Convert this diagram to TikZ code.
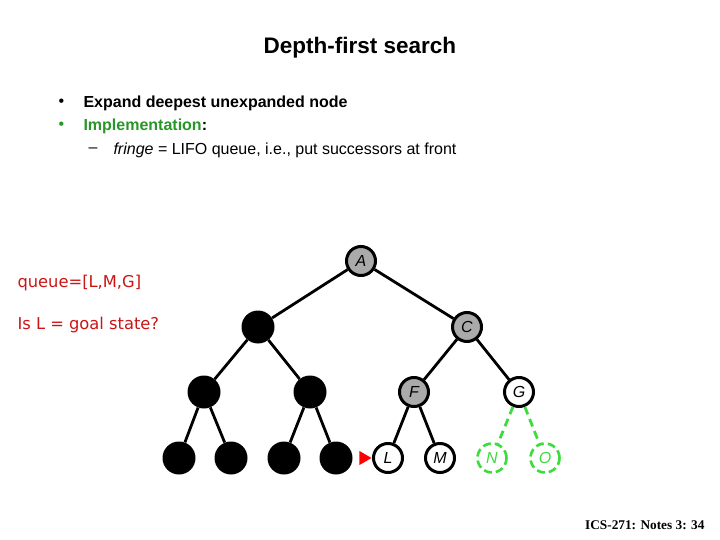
\documentclass[tikz,border=0pt]{standalone}
\usepackage{fontspec}
\setmainfont{Liberation Sans}
\newfontfamily\queuefont{DejaVu Sans}
\newfontfamily\notefont{Liberation Serif}
\usetikzlibrary{shapes.geometric}
\definecolor{qred}{RGB}{204,20,20}
\definecolor{impgreen}{RGB}{40,150,40}
\definecolor{newgreen}{RGB}{60,220,60}
\definecolor{expgray}{RGB}{170,170,170}

\begin{document}
\begin{tikzpicture}[x=1pt, y=-1pt,
	done/.style={circle, minimum size=33pt, inner sep=0pt, fill=black},
	open/.style={circle, minimum size=29pt, inner sep=0pt, draw=black, line width=3pt, fill=expgray, font=\fontsize{16}{16}\selectfont\itshape},
	leaf/.style={open, fill=white},
	fresh/.style={circle, minimum size=29pt, inner sep=0pt, draw=newgreen, line width=2.6pt, dash pattern=on 8pt off 4pt, text=newgreen, font=\fontsize{16}{16}\selectfont\itshape},
	edge/.style={line width=2.8pt},
	item/.style={anchor=west, font=\fontsize{16}{18}\selectfont}]
			\useasboundingbox (0,0) rectangle (720,540);
			\node[font=\fontsize{22.5}{26}\selectfont\bfseries](title) at (360,48){Depth-first search};
			\node[item](dot1) at (55,103){\textbullet};
			\node[item, font=\fontsize{16}{18}\selectfont\bfseries](it1) at (80,103){Expand deepest unexpanded node};
			\node[item, text=impgreen](dot2) at (55,126){\textbullet};
			\node[item, font=\fontsize{16}{18}\selectfont\bfseries](it2) at (80,126){\textcolor{impgreen}{Implementation}:};
			\node[item](dash) at (85,150){--};
			\node[item](it3) at (110,150){\textit{fringe} = LIFO queue, i.e., put successors at front};
			\node[anchor=west, text=qred, font=\queuefont\fontsize{16.3}{18}\selectfont](queue) at (14,283){queue=[L,M,G]};
			\node[anchor=west, text=qred, font=\queuefont\fontsize{16.3}{18}\selectfont](goal) at (14,325){Is L = goal state?};
			\node[anchor=base east, font=\notefont\fontsize{13.3}{15}\selectfont\bfseries](note) at (708,529){ICS-271: Notes 3: 34};
			% tree
			\node[open](a) at (361,261){A};
			\node[done](b) at (258,327){};
			\node[open](c) at (467,327){C};
			\node[done](d) at (204,392){};
			\node[done](e) at (310,392){};
			\node[open](f) at (414,392){F};
			\node[leaf](g) at (519,392){G};
			\node[done](h) at (179,458){};
			\node[done](i) at (231,458){};
			\node[done](j) at (284,458){};
			\node[done](k) at (336,458){};
			\node[leaf](l) at (388,458){L};
			\node[leaf](m) at (440,458){M};
			\node[fresh](n) at (492,458){N};
			\node[fresh](o) at (545,458){O};
			\draw[edge] (a) -- (b);
			\draw[edge] (a) -- (c);
			\draw[edge] (b) -- (d);
			\draw[edge] (b) -- (e);
			\draw[edge] (c) -- (f);
			\draw[edge] (c) -- (g);
			\draw[edge] (d) -- (h);
			\draw[edge] (d) -- (i);
			\draw[edge] (e) -- (j);
			\draw[edge] (e) -- (k);
			\draw[edge] (f) -- (l);
			\draw[edge] (f) -- (m);
			\draw[edge, newgreen, dash pattern=on 8pt off 5pt] (g) -- (n);
			\draw[edge, newgreen, dash pattern=on 8pt off 5pt] (g) -- (o);
			\node[isosceles triangle, isosceles triangle stretches, fill=red, inner sep=0pt, minimum width=14pt, minimum height=12pt, anchor=apex](ptr) at (l.west){};
			\end{tikzpicture}
\end{document}
